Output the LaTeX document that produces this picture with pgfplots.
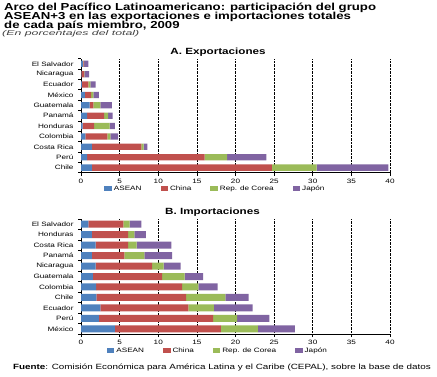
\documentclass[border=0pt]{standalone}
\usepackage{fontspec}
\setmainfont{Liberation Sans}[FakeStretch=1.3]
\usepackage{pgfplots}
\usepackage{pgfplotstable}
\pgfplotsset{compat=1.18}
\definecolor{cA}{HTML}{4F81BD}
\definecolor{cC}{HTML}{C0504D}
\definecolor{cK}{HTML}{9BBB59}
\definecolor{cJ}{HTML}{8064A2}

\pgfplotstableread{
y A C K J
10 0.25 0.10 0.05 0.55
9 0.05 0.35 0.05 0.60
8 0.10 0.85 0.25 0.70
7 0.50 0.80 0.30 0.70
6 1.10 0.50 0.90 1.50
5 0.80 2.20 0.50 0.60
4 0.20 1.50 2.00 0.70
3 0.55 2.85 0.40 1.00
2 1.40 6.40 0.30 0.50
1 0.80 15.20 2.90 5.10
0 1.40 23.30 5.80 9.30
}\exptab

\pgfplotstableread{
y A C K J
10 0.95 4.55 0.80 1.50
9 1.40 4.70 0.80 1.50
8 1.90 4.20 1.10 4.50
7 1.40 4.20 2.60 3.60
6 1.90 7.30 1.50 2.20
5 1.55 8.95 2.90 2.40
4 1.95 11.15 2.10 2.50
3 2.00 11.60 5.10 3.00
2 2.50 11.40 3.30 5.00
1 2.30 14.80 3.10 4.20
0 4.40 13.70 4.80 4.80
}\imptab

\pgfplotsset{
  mybars/.style={
    xbar stacked, scale only axis, width=309bp,
    xmin=0, xmax=40, ymin=-0.5, ymax=10.5,
    xtick={0,5,...,40},
    ytick={-0.5,0.5,...,10.5}, yticklabels={},
    axis x line*=bottom, axis y line*=left,
    axis line style={-, black, line width=0.9pt},
    tick align=outside, major tick length=3bp,
    tick style={black, line width=0.7pt},
    xmajorgrids, grid style={black, densely dotted, line width=0.6pt},
    tick label style={font=\fontsize{6.3}{7}\selectfont},
    /pgf/number format/assume math mode=true,
    extra y ticks={0,1,...,10},
    extra y tick style={major tick length=0pt, grid=none, yticklabel style={xshift=-4bp}},
    legend columns=4,
    legend style={draw=none, fill=none, font=\fontsize{6.3}{7}\selectfont,
      /tikz/every even column/.append style={column sep=17bp},
      inner sep=0pt},
    legend image code/.code={\fill[#1] (0bp,-2.5bp) rectangle (7.5bp,3bp);},
  }
}

\begin{document}
\begin{tikzpicture}[x=1bp,y=1bp]
\path[use as bounding box] (0,0) rectangle (437,376);

\node[anchor=base west, inner sep=0pt, font=\fontsize{10.2}{11}\selectfont\bfseries] at (4,366) {Arco del Pacífico Latinoamericano: participación del grupo};
\node[anchor=base west, inner sep=0pt, font=\fontsize{10.2}{11}\selectfont\bfseries] at (4,356.7) {ASEAN+3 en las exportaciones e importaciones totales};
\node[anchor=base west, inner sep=0pt, font=\fontsize{10.2}{11}\selectfont\bfseries] at (4,347.3) {de cada país miembro, 2009};
\node[anchor=base west, inner sep=0pt, font=\fontsize{7}{8}\selectfont\itshape, text=black!75] at (2,341) {\scalebox{1.36}[1]{(En porcentajes del total)}};

\node[anchor=base, inner sep=0pt, font=\fontsize{9}{10}\selectfont\bfseries] at (218,322) {A. Exportaciones};
\node[anchor=base, inner sep=0pt, font=\fontsize{9}{10}\selectfont\bfseries] at (212.5,162) {B. Importaciones};

\begin{axis}[mybars, at={(81bp,203.2bp)}, anchor=south west, height=114.2bp,
  bar width=6.3bp,
  extra y tick labels={Chile,Perú,Costa Rica,Colombia,Honduras,Panamá,Guatemala,México,Ecuador,Nicaragua,El Salvador},
  legend style={at={(0.435,-0.14)}, anchor=center}]
\addplot[fill=cA, draw=none] table[x=A, y=y] {\exptab};
\addplot[fill=cC, draw=none] table[x=C, y=y] {\exptab};
\addplot[fill=cK, draw=none] table[x=K, y=y] {\exptab};
\addplot[fill=cJ, draw=none] table[x=J, y=y] {\exptab};
\legend{ASEAN, China, Rep. de Corea, Japón}
\end{axis}

\begin{axis}[mybars, at={(81bp,42bp)}, anchor=south west, height=115bp,
  bar width=7bp,
  extra y tick labels={México,Perú,Ecuador,Chile,Colombia,Guatemala,Nicaragua,Panamá,Costa Rica,Honduras,El Salvador},
  legend style={at={(0.443,-0.146)}, anchor=center}]
\addplot[fill=cA, draw=none] table[x=A, y=y] {\imptab};
\addplot[fill=cC, draw=none] table[x=C, y=y] {\imptab};
\addplot[fill=cK, draw=none] table[x=K, y=y] {\imptab};
\addplot[fill=cJ, draw=none] table[x=J, y=y] {\imptab};
\legend{ASEAN, China, Rep. de Corea, Japón}
\end{axis}

\node[anchor=base west, inner sep=0pt, font=\fontsize{7.6}{9}\selectfont] at (13,7) {\textbf{Fuente}: Comisión Económica para América Latina y el Caribe (CEPAL), sobre la base de datos};
\end{tikzpicture}
\end{document}
